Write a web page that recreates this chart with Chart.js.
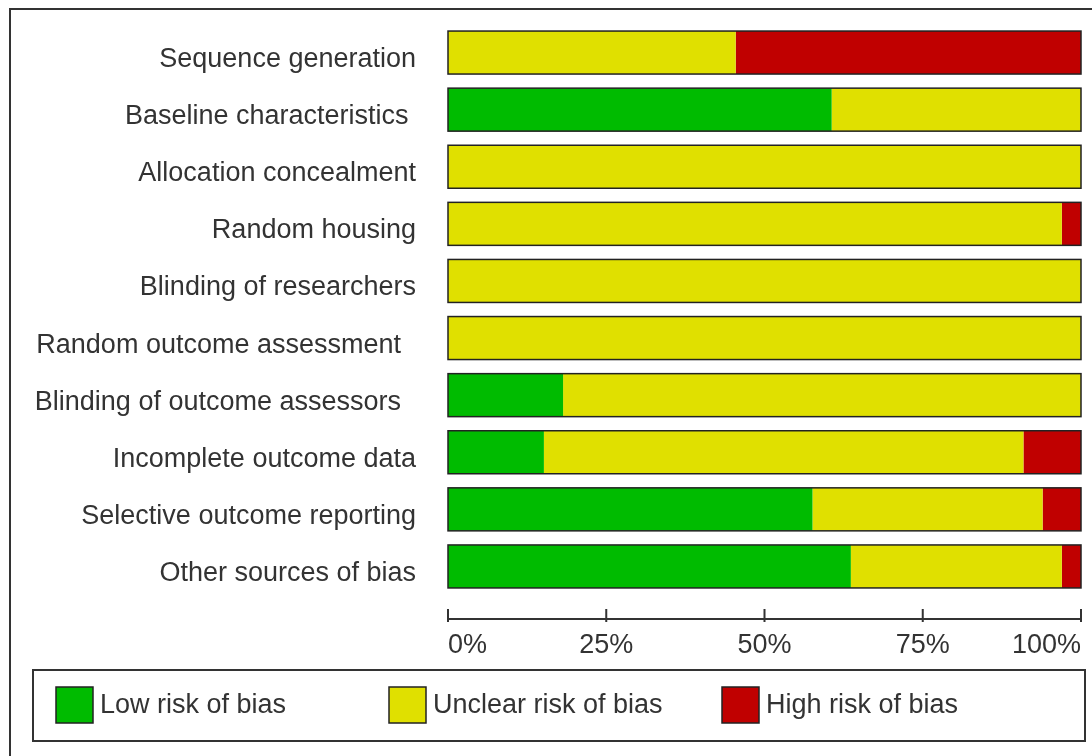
<!DOCTYPE html>
<html>
<head>
<meta charset="utf-8">
<script src="https://cdn.jsdelivr.net/npm/chart.js@4/dist/chart.umd.min.js"></script>
<style>
  body { margin: 0; background: #fff; }
  canvas { display: block; }
</style>
</head>
<body>
<canvas id="biasChart" width="1092" height="756"></canvas>
<script>
const domains = [
    'Sequence generation',
    'Baseline characteristics ',
    'Allocation concealment',
    'Random housing',
    'Blinding of researchers',
    'Random outcome assessment  ',
    'Blinding of outcome assessors  ',
    'Incomplete outcome data',
    'Selective outcome reporting',
    'Other sources of bias'
];
const lowRisk     = [0, 60.61, 0, 0, 0, 0, 18.18, 15.15, 57.58, 63.64];
const unclearRisk = [45.45, 39.39, 100, 96.97, 100, 100, 81.82, 75.76, 36.36, 33.33];
const highRisk    = [54.55, 0, 0, 3.03, 0, 0, 0, 9.09, 6.06, 3.03];
const xTicks = [0, 25, 50, 75, 100];

const FONT = '"Liberation Sans", Arial, sans-serif';
const INK = '#333';

// outline round each whole bar, page frame, axis line and boxed legend
const riskDecor = {
    id: 'riskDecor',
    afterDatasetsDraw(chart) {
        const ctx = chart.ctx;
        const x = chart.scales.x;
        const metas = chart.data.datasets.map((d, i) => chart.getDatasetMeta(i));
        ctx.save();

        // frame
        ctx.strokeStyle = INK;
        ctx.lineWidth = 2;
        ctx.beginPath();
        ctx.moveTo(10, 760);
        ctx.lineTo(10, 9);
        ctx.lineTo(1100, 9);
        ctx.stroke();

        // bar outlines
        ctx.strokeStyle = '#222';
        ctx.lineWidth = 1.5;
        domains.forEach((d, i) => {
            const bar = metas[0].data[i];
            const h = bar.height;
            ctx.strokeRect(x.getPixelForValue(0), bar.y - h / 2, x.getPixelForValue(100) - x.getPixelForValue(0), h);
        });

        // x axis
        const ay = 619;
        ctx.strokeStyle = INK;
        ctx.lineWidth = 2;
        ctx.beginPath();
        ctx.moveTo(x.getPixelForValue(0), ay);
        ctx.lineTo(x.getPixelForValue(100), ay);
        xTicks.forEach(t => {
            const px = x.getPixelForValue(t);
            ctx.moveTo(px, ay - 10);
            ctx.lineTo(px, ay + 3);
        });
        ctx.stroke();

        // legend
        ctx.lineWidth = 2;
        ctx.strokeRect(33, 670, 1052, 71);
        const slots = [56, 389, 722];
        ctx.font = '27px ' + FONT;
        ctx.textBaseline = 'middle';
        ctx.textAlign = 'left';
        chart.data.datasets.forEach((ds, i) => {
            ctx.fillStyle = ds.backgroundColor;
            ctx.fillRect(slots[i], 687, 37, 36);
            ctx.lineWidth = 1.5;
            ctx.strokeStyle = '#222';
            ctx.strokeRect(slots[i], 687, 37, 36);
            ctx.fillStyle = INK;
            ctx.fillText(ds.label, slots[i] + 44, 706);
        });
        ctx.restore();
    }
};

new Chart(document.getElementById('biasChart'), {
    type: 'bar',
    data: {
        labels: domains,
        datasets: [
            { label: 'Low risk of bias', data: lowRisk, backgroundColor: '#00bb00' },
            { label: 'Unclear risk of bias', data: unclearRisk, backgroundColor: '#e0e000' },
            { label: 'High risk of bias', data: highRisk, backgroundColor: '#c00000' }
        ]
    },
    options: {
        indexAxis: 'y',
        responsive: false,
        animation: false,
        borderWidth: 0,
        categoryPercentage: 1,
        barPercentage: 0.753,
        layout: { padding: { top: 24, right: 11, bottom: 91, left: 0 } },
        plugins: {
            legend: { display: false },
            tooltip: { enabled: false }
        },
        scales: {
            x: {
                stacked: true,
                min: 0,
                max: 100,
                grid: { display: false },
                border: { display: false },
                afterFit(s) { s.height = 70; s.paddingLeft = 0; s.paddingRight = 0; },
                afterBuildTicks(s) { s.ticks = xTicks.map(v => ({ value: v })); },
                ticks: {
                    align: 'inner',
                    maxRotation: 0,
                    padding: 26,
                    color: INK,
                    font: { family: FONT, size: 27 },
                    callback: v => v + '%'
                }
            },
            y: {
                stacked: true,
                grid: { display: false },
                border: { display: false },
                afterFit(s) { s.width = 448; s.paddingTop = 0; s.paddingBottom = 0; },
                ticks: {
                    padding: 24,
                    labelOffset: 7,
                    color: INK,
                    font: { family: FONT, size: 27 }
                }
            }
        }
    },
    plugins: [riskDecor]
});
</script>
</body>
</html>
